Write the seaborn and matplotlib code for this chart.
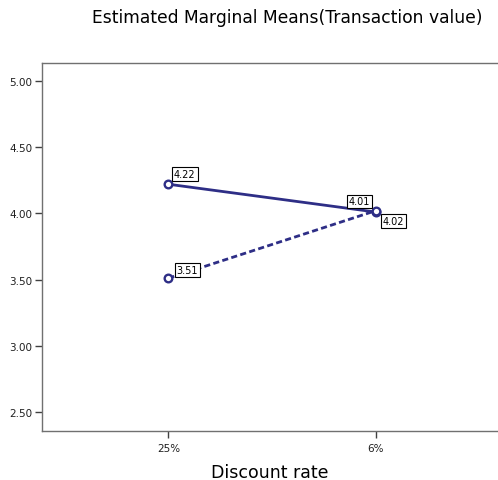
import pandas as pd
import seaborn as sns
import matplotlib.pyplot as plt

# Data
discount = ['25%', '6%']
solid_means = [4.22, 4.01]
dashed_means = [3.51, 4.02]
groups = ['A', 'B']

df = pd.DataFrame({
    'pos': [0, 1, 0, 1],
    'Mean': solid_means + dashed_means,
    'Group': [groups[0]] * 2 + [groups[1]] * 2,
})

sns.set_style('white')
plt.rcParams['font.family'] = ['DejaVu Sans']
plt.rcParams['text.color'] = 'black'

navy = '#2e2e86'
fig = plt.figure(figsize=(4.98, 4.81), dpi=100)
ax = fig.add_axes([0.0843, 0.1019, 0.9157, 0.7651])

sns.lineplot(data=df, x='pos', y='Mean', hue='Group', style='Group',
             palette=[navy, navy], dashes=[(None, None), (2.2, 1.2)],
             markers=['o', 'o'], linewidth=2, legend=False, ax=ax)
for ln in ax.lines:
    ln.set_markersize(5.5)
    ln.set_markerfacecolor('white')
    ln.set_markeredgecolor(navy)
    ln.set_markeredgewidth(1.7)

ax.set_xlim(-0.61, 1.59)
ax.set_xticks([0, 1])
ax.set_xticklabels(discount)
ax.set_ylim(2.356, 5.136)
yt = [2.5, 3.0, 3.5, 4.0, 4.5, 5.0]
ax.set_yticks(yt)
ax.set_yticklabels(['%.2f' % v for v in yt])

for side in ['left', 'top', 'bottom']:
    ax.spines[side].set_color('#707070')
    ax.spines[side].set_linewidth(1.0)
ax.spines['right'].set_visible(False)
ax.tick_params(axis='both', bottom=True, left=True, direction='out', length=5,
               width=1, color='#404040', labelsize=7.5, pad=2, labelcolor='#202020')
ax.tick_params(axis='x', pad=4)

ax.set_xlabel('Discount rate', fontsize=12.5, labelpad=7, color='black')
ax.set_ylabel('')
fig.text(0.576, 0.962, 'Estimated Marginal Means(Transaction value)',
         ha='center', va='center', fontsize=12.3, color='black')

# value labels
box = dict(boxstyle='square,pad=0.2', fc='white', ec='black', lw=0.8)
labels = [(0, solid_means[0], 4, 4, 'left', 'bottom'),
          (1, solid_means[1], -4, 4, 'right', 'bottom'),
          (0, dashed_means[0], 6, 2, 'left', 'bottom'),
          (1, dashed_means[1], 5, -4, 'left', 'top')]
for xi, v, dx, dy, ha, va in labels:
    ax.annotate('%.2f' % v, (xi, v), xytext=(dx, dy), textcoords='offset points',
                ha=ha, va=va, fontsize=7, bbox=box)

plt.savefig('out.png', dpi=100)
